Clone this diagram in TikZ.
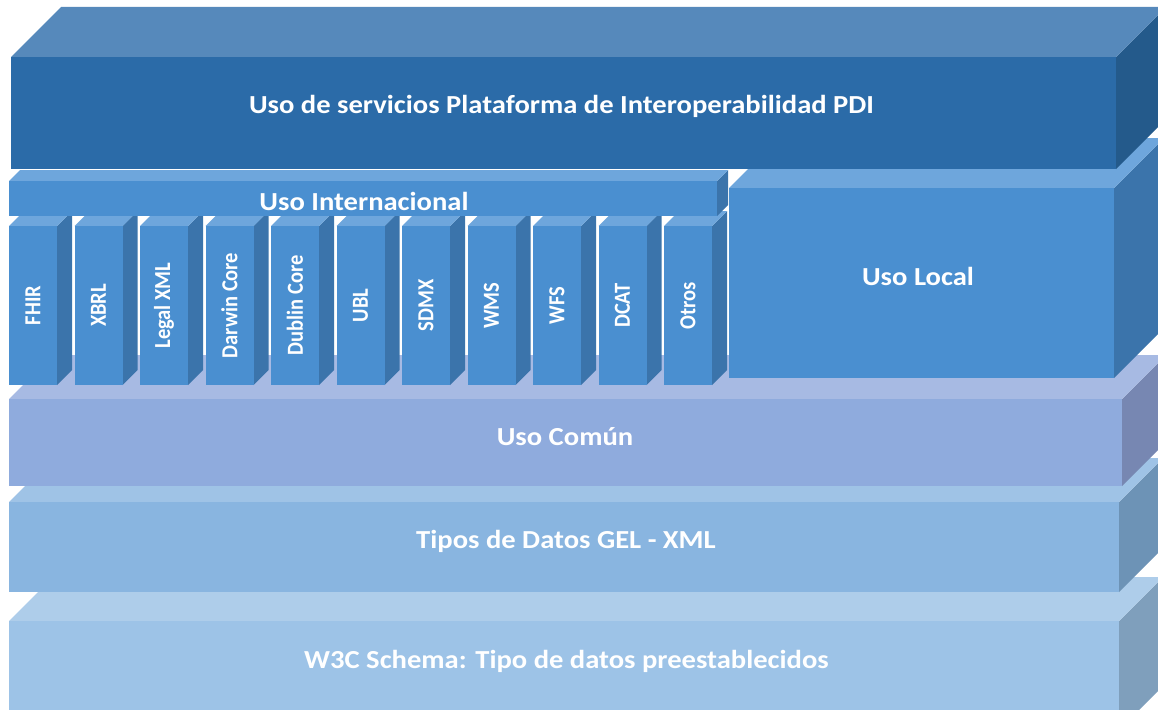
\documentclass[tikz,border=0pt]{standalone}
\usepackage{fontspec}
\setmainfont{Carlito}
\definecolor{pdiF}{HTML}{2B6BA8}
\definecolor{pdiT}{HTML}{5689BB}
\definecolor{pdiS}{HTML}{245A8B}
\definecolor{midF}{HTML}{4A8FD0}
\definecolor{midT}{HTML}{6EA6DC}
\definecolor{midS}{HTML}{3B74AB}
\definecolor{comF}{HTML}{8FABDD}
\definecolor{comT}{HTML}{A7BAE3}
\definecolor{comS}{HTML}{7787B2}
\definecolor{tipF}{HTML}{89B5E0}
\definecolor{tipT}{HTML}{9FC3E6}
\definecolor{tipS}{HTML}{6D93B6}
\definecolor{w3cF}{HTML}{9DC3E7}
\definecolor{w3cT}{HTML}{AECDEA}
\definecolor{w3cS}{HTML}{7F9FBC}
% name, x1, y1, x2, y2, depth, front, top, side
\newcommand{\slab}[9]{%
  \fill[#9] (#4,#3) -- ++(#6,-#6) -- ++(0,{#5-#3}) -- (#4,#5) -- cycle;
  \fill[#8] (#2,#3) -- ++(#6,-#6) -- ++({#4-#2},0) -- (#4,#3) -- cycle;
  \fill[#7] (#2,#3) rectangle (#4,#5);
  \coordinate (#1) at ({(#2+#4)/2},{(#3+#5)/2});
}
\begin{document}
\begin{tikzpicture}[x=1pt,y=-1pt,
  lbl/.style={text=white,font=\bfseries\fontsize{26}{31}\selectfont,anchor=base,inner sep=0pt},
  coltxt/.style={text=white,font=\bfseries\fontsize{20.5}{24}\selectfont,rotate=90,inner sep=0pt}]
\useasboundingbox (0,0) rectangle (1158,709);
\clip (0,0) rectangle (1158,709);
% bottom layers
\slab{w3c}{9}{621}{1119}{730}{44}{w3cF}{w3cT}{w3cS}
\slab{tip}{9}{502}{1119}{592}{44}{tipF}{tipT}{tipS}
\slab{com}{9}{399}{1122}{486}{44}{comF}{comT}{comS}
% local
\slab{loc}{729}{188}{1114}{378}{50}{midF}{midT}{midS}
% columns
\foreach \t [count=\i from 0] in {FHIR,XBRL,Legal XML,Darwin Core,Dublin Core,UBL,SDMX,WMS,WFS,DCAT,Otros}{
  \pgfmathsetmacro\xa{9+65.5*\i}
  \pgfmathsetmacro\xb{\xa+48}
  \slab{colbox\i}{\xa}{226}{\xb}{385}{15}{midF}{midT}{midS}
  \node[coltxt] (col\i) at (colbox\i) {\scalebox{1}[1.12]{\t}};
}
% international
\slab{intl}{9}{181}{717}{216}{11}{midF}{midT}{midS}
% top
\slab{pdi}{11}{57}{1116}{169}{50}{pdiF}{pdiT}{pdiS}
% labels
\node[lbl] (pdiL) at (561.5,113) {\scalebox{1.1}[1]{Uso de servicios Plataforma de Interoperabilidad PDI}};
\node[lbl] (intlL) at (364,210) {\scalebox{1.1}[1]{Uso Internacional}};
\node[lbl] (locL) at (918,285) {\scalebox{1.1}[1]{Uso Local}};
\node[lbl] (comL) at (565,445) {\scalebox{1.1}[1]{Uso Común}};
\node[lbl] (tipL) at (566,548) {\scalebox{1.1}[1]{Tipos de Datos GEL - XML}};
\node[lbl] (w3cL) at (566.5,668) {\scalebox{1.1}[1]{W3C Schema: Tipo de datos preestablecidos}};
\end{tikzpicture}
\end{document}
